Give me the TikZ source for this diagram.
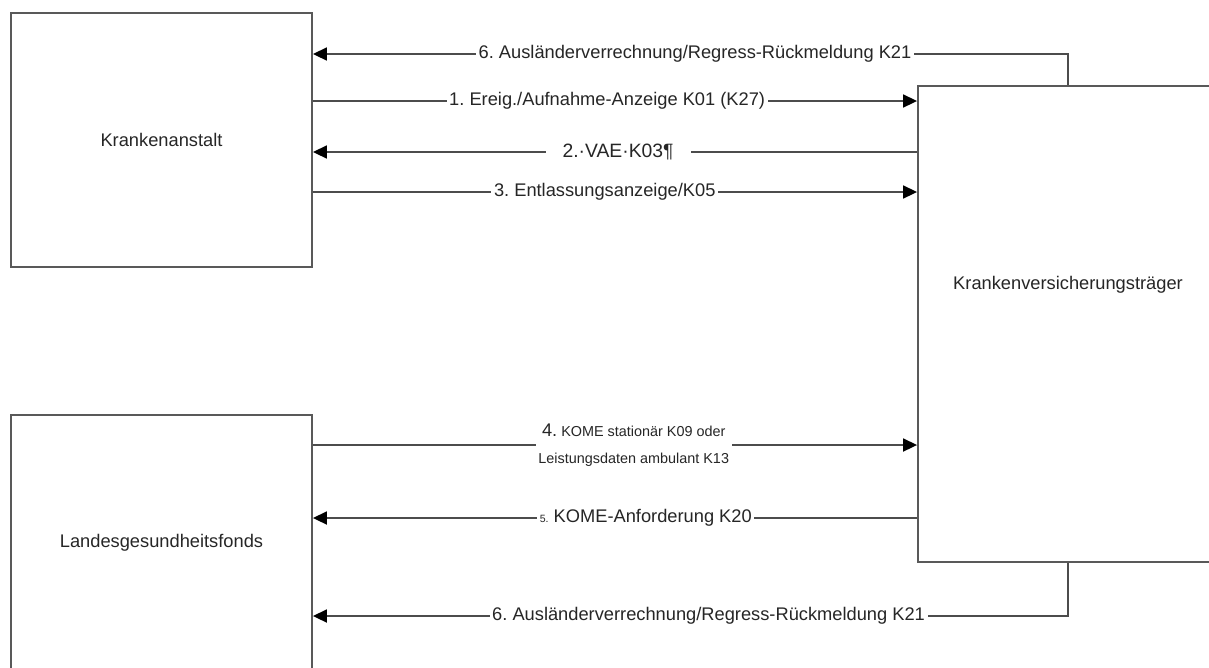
\documentclass[tikz,border=0pt]{standalone}
\usepackage{fontspec}
\setmainfont{Liberation Sans}
\frenchspacing
\usetikzlibrary{arrows.meta}
\tikzset{
  >={Triangle[length=0.28cm,width=0.26cm,color=black]},
}
\tikzstyle{box}=[draw=black!65,line width=1.1pt,inner sep=0pt,font=\fontsize{10.4}{12}\selectfont,text=black!85]
\tikzstyle{flow}=[draw=black!70,line width=1pt]
\tikzstyle{msg}=[fill=white,inner xsep=1.5pt,inner ysep=1pt,font=\fontsize{10.4}{12}\selectfont,text=black!85]

\begin{document}
\begin{tikzpicture}[x=0.02cm,y=-0.02cm]
    \useasboundingbox (0,0) rectangle (1209,667);
    \clip (0,0) rectangle (1209,667);
    \node[box,minimum width=6.02cm,minimum height=5.08cm] (ka) at (161.5,140) {Krankenanstalt};
    \node[box,minimum width=6.02cm,minimum height=5.1cm] (lgf) at (161.5,542.5) {Landesgesundheitsfonds};
    \node[box,minimum width=6cm,minimum height=9.52cm] (kv) at (1068,324) {};
    \node[font=\fontsize{10.4}{12}\selectfont,text=black!85] (kvname) at (1068,285) {Krankenversicherungsträger};

    \draw[flow,->] (kv.north) |- (ka.east |- 0,54)
    node[msg,pos=.747]{6. Ausländerverrechnung/Regress-Rückmeldung K21};
    \draw[flow,->] (ka.east |- 0,101) -- (kv.west |- 0,101)
    node[msg,pos=.487]{1. Ereig./Aufnahme-Anzeige K01 (K27)};
    \draw[flow,->] (kv.west |- 0,152) -- (ka.east |- 0,152)
    node[msg,pos=.495,inner xsep=0.34cm,font=\fontsize{11}{13}\selectfont]{2.·VAE·K03¶};
    \draw[flow,->] (ka.east |- 0,192) -- (kv.west |- 0,192)
    node[msg,pos=.483]{3. Entlassungsanzeige/K05};

    \draw[flow,->] (lgf.east |- 0,445) -- (kv.west |- 0,445)
    node[msg,pos=.531,align=center,font=\fontsize{8.2}{15.5}\selectfont]
    {{\fontsize{10.4}{12}\selectfont 4.} KOME stationär K09 oder\\Leistungsdaten ambulant K13};
    \draw[flow,->] (kv.west |- 0,518) -- (lgf.east |- 0,518)
    node[msg,pos=.449]{{\fontsize{6}{7}\selectfont 5.} KOME-Anforderung K20};
    \draw[flow,->] (kv.south) |- (lgf.east |- 0,616)
    node[msg,pos=.738]{6. Ausländerverrechnung/Regress-Rückmeldung K21};
\end{tikzpicture}
\end{document}
